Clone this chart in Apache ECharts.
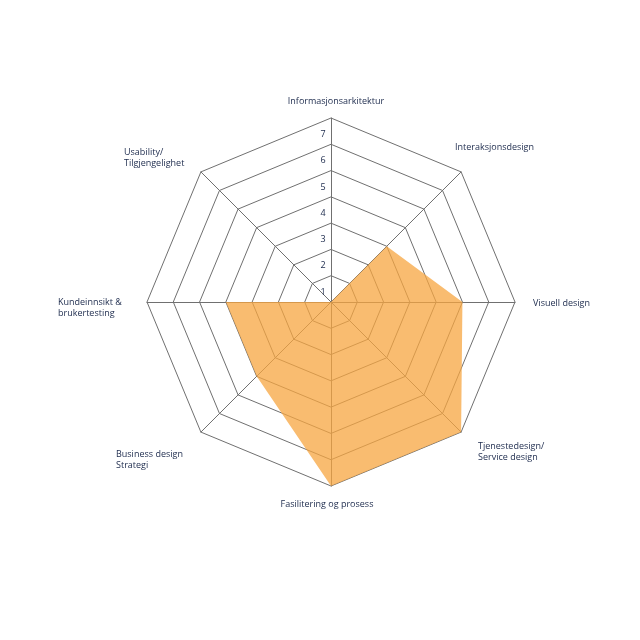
<!DOCTYPE html>
<html>
<head>
<meta charset="utf-8">
<script src="https://cdn.jsdelivr.net/npm/echarts@6/dist/echarts.min.js"></script>
<style>
html,body{margin:0;padding:0;background:#fff;}
#chart{width:640px;height:640px;}
</style>
</head>
<body>
<div id="chart"></div>
<script>
// Categories in counterclockwise order starting from the top (ECharts radar direction)
var categories = [
  'Informasjonsarkitektur',
  'Usability/\nTilgjengelighet',
  'Kundeinnsikt &\nbrukertesting',
  'Business design\nStrategi',
  'Fasilitering og prosess',
  'Tjenestedesign/\nService design',
  'Visuell design',
  'Interaksjonsdesign'
];
var values = [0, 0, 4, 4, 7, 7, 5, 3];
var scaleMax = 7;
var tickLabels = ['1', '2', '3', '4', '5', '6', '7'];

// label layout (positions of category names)
var namePos = [
  {x: 336, y: 101, align: 'center'},
  {x: 124, y: 158, align: 'left'},
  {x: 58,  y: 308, align: 'left'},
  {x: 116, y: 460, align: 'left'},
  {x: 327, y: 504, align: 'center'},
  {x: 478, y: 452, align: 'left'},
  {x: 533, y: 303, align: 'left'},
  {x: 455, y: 147, align: 'left'}
];

var textColor = '#1c2a4c';
var font = '9px "Open Sans", sans-serif';

var indicators = categories.map(function (c, i) {
  var ind = {name: c, min: 0, max: scaleMax};
  if (i === 0) {
    ind.axisLabel = {
      show: true,
      showMinLabel: false,
      color: textColor,
      fontSize: 9,
      fontFamily: 'Open Sans',
      margin: 8,
      align: 'center',
      verticalAlign: 'top',
      padding: [12, 0, 0, 0],
      formatter: function (v) {
        var idx = Math.round(v) - 1;
        return idx >= 0 && idx < tickLabels.length ? tickLabels[idx] : '';
      }
    };
  }
  return ind;
});

var chart = echarts.init(document.getElementById('chart'), null, {renderer: 'canvas'});
chart.setOption({
  backgroundColor: '#ffffff',
  animation: false,
  radar: {
    center: [331, 302],
    radius: 184,
    startAngle: 90,
    splitNumber: 7,
    shape: 'polygon',
    indicator: indicators,
    axisName: {show: false},
    axisLabel: {show: false},
    axisTick: {show: false},
    axisLine: {show: true, lineStyle: {color: '#707070', width: 1}},
    splitLine: {show: true, lineStyle: {color: '#707070', width: 1}},
    splitArea: {show: false}
  },
  series: [{
    type: 'radar',
    symbol: 'none',
    lineStyle: {width: 0},
    areaStyle: {color: 'rgb(247,166,64)', opacity: 0.75},
    data: [{value: values}]
  }],
  graphic: categories.map(function (c, i) {
    return {
      type: 'text',
      x: namePos[i].x,
      y: namePos[i].y,
      style: {
        text: c,
        fill: textColor,
        font: font,
        lineHeight: 11,
        align: namePos[i].align,
        verticalAlign: 'middle'
      }
    };
  })
});
</script>
</body>
</html>
